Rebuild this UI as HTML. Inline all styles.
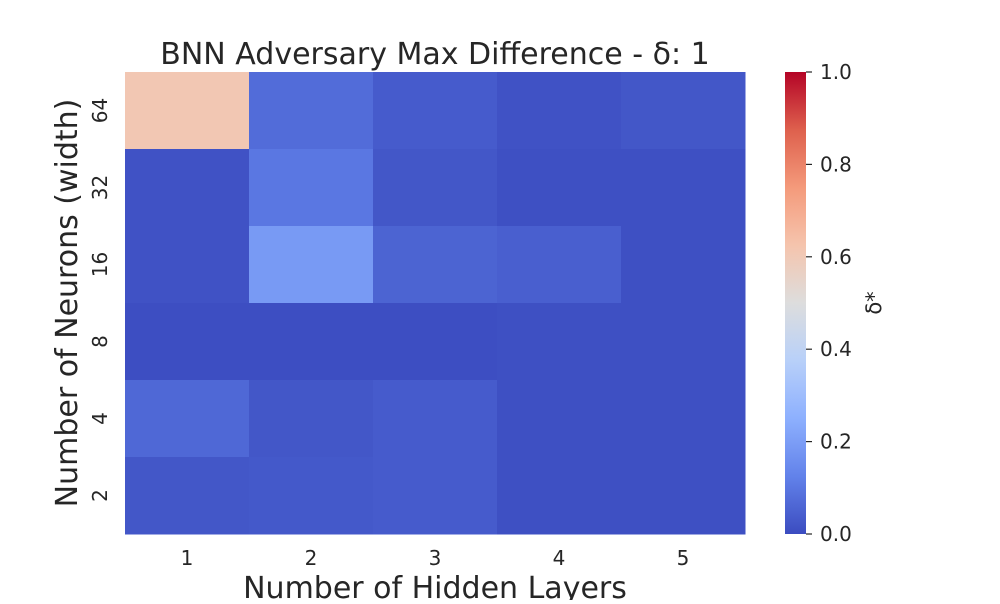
<!DOCTYPE html>
<html><head><meta charset="utf-8"><style>
body{margin:0;background:#fff;font-family:"DejaVu Sans","Liberation Sans",sans-serif;}
svg text{fill:#262626;font-family:"DejaVu Sans","Liberation Sans",sans-serif;}
</style></head><body>
<svg id="chart" width="1000" height="600" xmlns="http://www.w3.org/2000/svg">
<defs><linearGradient id="cbg" x1="0" y1="1" x2="0" y2="0"></linearGradient></defs>
<text x="435" y="64" font-size="30" text-anchor="middle">BNN Adversary Max Difference - δ: 1</text>
<g id="cells"></g>
<g id="xt"></g>
<g id="yt"></g>
<text x="435" y="598" font-size="30" text-anchor="middle">Number of Hidden Layers</text>
<text transform="translate(77,303) rotate(-90)" font-size="30" text-anchor="middle">Number of Neurons (width)</text>
<rect x="785" y="72" width="21" height="462" fill="url(#cbg)"/>
<g id="cb"></g>
<text transform="translate(881,303) rotate(-90)" font-size="21" text-anchor="middle">δ*</text>
</svg>
<script>
const xCats=["1","2","3","4","5"];
const yCats=["64","32","16","8","4","2"];
const values=[
[0.61,0.075,0.035,0.015,0.025],
[0.015,0.1,0.025,0.01,0.01],
[0.015,0.19,0.055,0.045,0.01],
[0.005,0.005,0.005,0.01,0.01],
[0.065,0.025,0.035,0.01,0.01],
[0.025,0.03,0.035,0.01,0.01]];
const cbTicks=[0,0.2,0.4,0.6,0.8,1.0];
const stops=[[59,76,192],[98,130,234],[141,176,254],[184,208,249],[221,221,221],[245,196,173],[244,154,123],[222,96,77],[180,4,38]];
function cmap(v){v=Math.max(0,Math.min(1,v));const p=v*8,i=Math.min(7,Math.floor(p)),t=p-i;const a=stops[i],b=stops[i+1];return `rgb(${a.map((c,k)=>Math.round(c+(b[k]-c)*t)).join(',')})`;}
const NS="http://www.w3.org/2000/svg";
const X0=125,X1=745,Y0=72,Y1=534;
const cw=(X1-X0)/xCats.length,ch=(Y1-Y0)/yCats.length;
function mk(t,attrs,parent,txt){const e=document.createElementNS(NS,t);for(const k in attrs)e.setAttribute(k,attrs[k]);if(txt!==undefined)e.textContent=txt;parent.appendChild(e);return e;}
const cells=document.getElementById('cells');
values.forEach((row,r)=>row.forEach((v,c)=>{
 const e=mk('rect',{x:X0+c*cw,y:Y0+r*ch,width:cw+0.5,height:ch+0.5,fill:cmap(v)},cells);
 
 
}));
const xt=document.getElementById('xt');
xCats.forEach((l,i)=>{const e=mk('text',{x:X0+(i+.5)*cw,y:565,'font-size':20,'text-anchor':'middle'},xt,l);
 });
const yt=document.getElementById('yt');
yCats.forEach((l,i)=>{const y=Y0+(i+.5)*ch;const e=mk('text',{transform:`translate(107,${y}) rotate(-90)`,'font-size':20,'text-anchor':'middle'},yt,l);
 });
const g=document.getElementById('cbg');
for(let i=0;i<=16;i++){mk('stop',{offset:(i/16),'stop-color':cmap(i/16)},g);}
const cb=document.getElementById('cb');
cbTicks.forEach(v=>{const y=Y1-v*(Y1-Y0);
 mk('line',{x1:806,x2:812,y1:y,y2:y,stroke:'#262626','stroke-width':1.2},cb);
 const e=mk('text',{x:820,y:y+7,'font-size':20},cb,v.toFixed(1));
 });
</script>
</body></html>
